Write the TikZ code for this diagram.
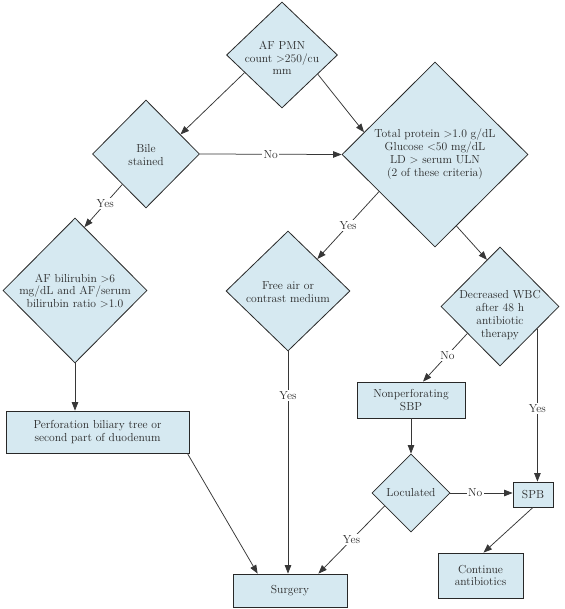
\documentclass[tikz,border=0pt]{standalone}
\usetikzlibrary{shapes.geometric,arrows.meta,calc}
\definecolor{boxfill}{RGB}{214,233,241}
\definecolor{ink}{RGB}{40,40,40}
\definecolor{wire}{RGB}{55,55,55}
\newcommand\dtxt{\fontsize{11.6}{12.8}\selectfont}
\tikzset{
 dia/.style={diamond, draw=ink, fill=boxfill, line width=0.8pt, inner sep=0pt},
 rbox/.style={rectangle, draw=ink, fill=boxfill, line width=0.8pt, inner sep=0pt, font=\dtxt, text=ink, align=center},
 txt/.style={font=\dtxt, text=ink, align=center, inner sep=0pt},
 conn/.style={draw=wire, line width=0.75pt, -{Triangle[length=8.5pt,width=6.5pt]}},
 lab/.style={fill=white, font=\dtxt, text=ink, inner sep=1.5pt},
}
\begin{document}
\begin{tikzpicture}[x=1pt,y=-1pt]
\useasboundingbox[fill=white] (0,0) rectangle (564,609);
% diamonds
\node[dia, minimum width=111pt, minimum height=106pt] (pmn) at (282,55) {};
\node[dia, minimum width=107pt, minimum height=108pt] (bile) at (146,154) {};
\node[dia, minimum width=186pt, minimum height=185pt] (tp) at (435,154.5) {};
\node[dia, minimum width=144pt, minimum height=145pt] (bili) at (75,290.5) {};
\node[dia, minimum width=124pt, minimum height=120pt] (free) at (288,291) {};
\node[dia, minimum width=118pt, minimum height=119pt] (wbc) at (500,306.5) {};
\node[dia, minimum width=78pt, minimum height=78pt] (loc) at (411,493) {};
% diamond texts
\node[txt] (tpmn) at (282,58) {AF PMN\\count \textgreater250/cu\\mm};
\node[txt] (tbile) at (146,155) {Bile\\stained};
\node[txt] (ttp) at (435,154) {Total protein \textgreater1.0 g/dL\\Glucose \textless50 mg/dL\\LD \textgreater{} serum ULN\\(2 of these criteria)};
\node[txt] (tbili) at (75,291) {AF bilirubin \textgreater6\\mg/dL and AF/serum\\bilirubin ratio \textgreater1.0};
\node[txt] (tfree) at (288,292) {Free air or\\contrast medium};
\node[txt] (twbc) at (500,315) {Decreased WBC\\after 48 h\\antibiotic\\therapy};
\node[txt] (tloc) at (411,493) {Loculated};
% boxes
\node[rbox, minimum width=183pt, minimum height=42pt] (perf) at (97.5,432) {Perforation biliary tree or\\second part of duodenum};
\node[rbox, minimum width=108pt, minimum height=36pt] (nonp) at (411,400) {Nonperforating\\SBP};
\node[rbox, minimum width=40pt, minimum height=25pt] (spb) at (533,494.5) {SPB};
\node[rbox, minimum width=85pt, minimum height=45pt] (cont) at (480.5,575.5) {Continue\\antibiotics};
\node[rbox, minimum width=114pt, minimum height=33pt] (surg) at (290,590.5) {Surgery};
% connectors
\draw[conn] ($(pmn.west)!0.33!(pmn.south)$) -- ($(bile.north)!0.64!(bile.east)$);
\draw[conn] ($(pmn.east)!0.36!(pmn.south)$) -- ($(tp.west)!0.24!(tp.north)$);
\draw[conn] (bile.east) -- node[lab]{No} (tp.west);
\draw[conn] ($(bile.west)!0.56!(bile.south)$) -- node[lab, pos=0.45]{Yes} ($(bili.north)!0.13!(bili.east)$);
\draw[conn] (bili.south) -- (bili.south |- perf.north);
\draw[conn] ($(perf.south east)+(-2,0)$) -- ($(surg.north west)+(25,0)$);
\draw[conn] ($(tp.west)!0.4!(tp.south)$) -- node[lab]{Yes} ($(free.north)!0.47!(free.east)$);
\draw[conn] ($(tp.south)!0.23!(tp.east)$) -- ($(wbc.west)!0.78!(wbc.north)$);
\draw[conn] (free.south) -- node[lab, pos=0.2]{Yes} (free.south |- surg.north);
\draw[conn] ($(wbc.west)!0.45!(wbc.south)$) -- node[lab, pos=0.45]{No} ($(nonp.north)+(12,0)$);
\coordinate (wbcr) at ($(wbc.east)!0.37!(wbc.south)$);
\draw[conn] (wbcr) -- node[lab, pos=0.52]{Yes} (wbcr |- spb.north);
\draw[conn] (nonp.south) -- (loc.north);
\draw[conn] (loc.east) -- node[lab, pos=0.4]{No} (loc.east -| spb.west);
\draw[conn] ($(loc.west)!0.33!(loc.south)$) -- node[lab, pos=0.5]{Yes} ($(surg.north east)+(-29,0)$);
\draw[conn] (spb.south) -- ($(cont.north)+(3,0)$);
\end{tikzpicture}
\end{document}
